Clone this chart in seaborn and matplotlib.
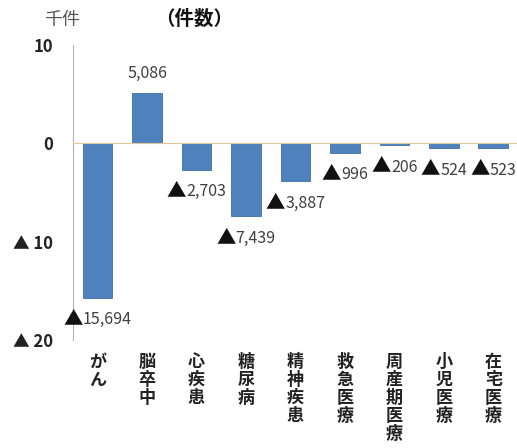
import matplotlib

matplotlib.use("Agg")
import matplotlib.pyplot as plt
import matplotlib.transforms as mtransforms
import seaborn as sns
from matplotlib.offsetbox import AnnotationBbox, HPacker, TextArea

# data (千件 change in counts)
categories = ["がん", "脳卒中", "心疾患", "糖尿病", "精神疾患", "救急医療", "周産期医療", "小児医療", "在宅医療"]
counts = [-15694, 5086, -2703, -7439, -3887, -996, -206, -524, -523]
ytick_vals = [10, 0, -10, -20]
ytick_labels = ["10", "0", "▲ 10", "▲ 20"]

sns.set_style("white")
plt.rcParams["font.family"] = ["Noto Sans CJK JP", "DejaVu Sans"]

values_k = [c / 1000 for c in counts]

fig = plt.figure(figsize=(5.17, 4.48), dpi=100)
ax = fig.add_axes([0.141, 0.241, 0.861, 0.659])

sns.barplot(x=categories, y=values_k, color="#4F81BD", width=0.6,
            saturation=1, edgecolor="#3f6fa8", linewidth=0.6, ax=ax)

ax.set_xlim(-0.5, len(categories) - 0.5)
ax.set_ylim(-20, 10)

# y axis
ax.set_yticks(ytick_vals)
ax.set_yticklabels(ytick_labels, fontsize=12, color="#222222", fontweight="bold")
ax.tick_params(axis="y", direction="in", length=4, pad=14, color="#bdb5a8")
ax.spines["left"].set_color("#bdb5a8")

# x axis on zero line with ticks between categories
ax.spines["bottom"].set_position(("data", 0))
ax.spines["bottom"].set_color("#e0c49e")
ax.set_xticks([i + 0.5 for i in range(len(categories) - 1)])
ax.set_xticklabels([])
ax.tick_params(axis="x", direction="in", length=4, color="#c8c0b4")
ax.spines["top"].set_visible(False)
ax.spines["right"].set_visible(False)
ax.set_xlabel("")
ax.set_ylabel("")

# value labels
num_props = dict(fontsize=11.5, color="#404040")
tri_props = dict(fontsize=14, color="#111111")
for i, v in enumerate(counts):
    if v < 0:
        parts = [TextArea("▲", textprops=tri_props), TextArea(f"{abs(v):,}", textprops=num_props)]
        offset = -15
    else:
        parts = [TextArea(f"{v:,}", textprops=num_props)]
        offset = 14
    box = HPacker(children=parts, align="baseline", pad=0, sep=0)
    ab = AnnotationBbox(box, (i, v / 1000), xybox=(0, offset), xycoords="data",
                        boxcoords="offset points", frameon=False,
                        box_alignment=(0.5, 0.5), pad=0)
    ax.add_artist(ab)

# vertical category labels at bottom
trans = mtransforms.blended_transform_factory(ax.transData, fig.transFigure)
for i, cat in enumerate(categories):
    ax.text(i, 1 - 353 / 448, "\n".join(cat), transform=trans, ha="center", va="top",
            fontsize=12.3, fontweight="bold", linespacing=1.0, color="#222222",
            clip_on=False)

fig.text(62 / 517, 1 - 20 / 448, "千件", ha="center", va="center", fontsize=13, color="#555555")
fig.text(194 / 517, 1 - 19 / 448, "（件数）", ha="center", va="center", fontsize=14,
         fontweight="bold", color="#111111")

fig.savefig("out.png", dpi=100)
